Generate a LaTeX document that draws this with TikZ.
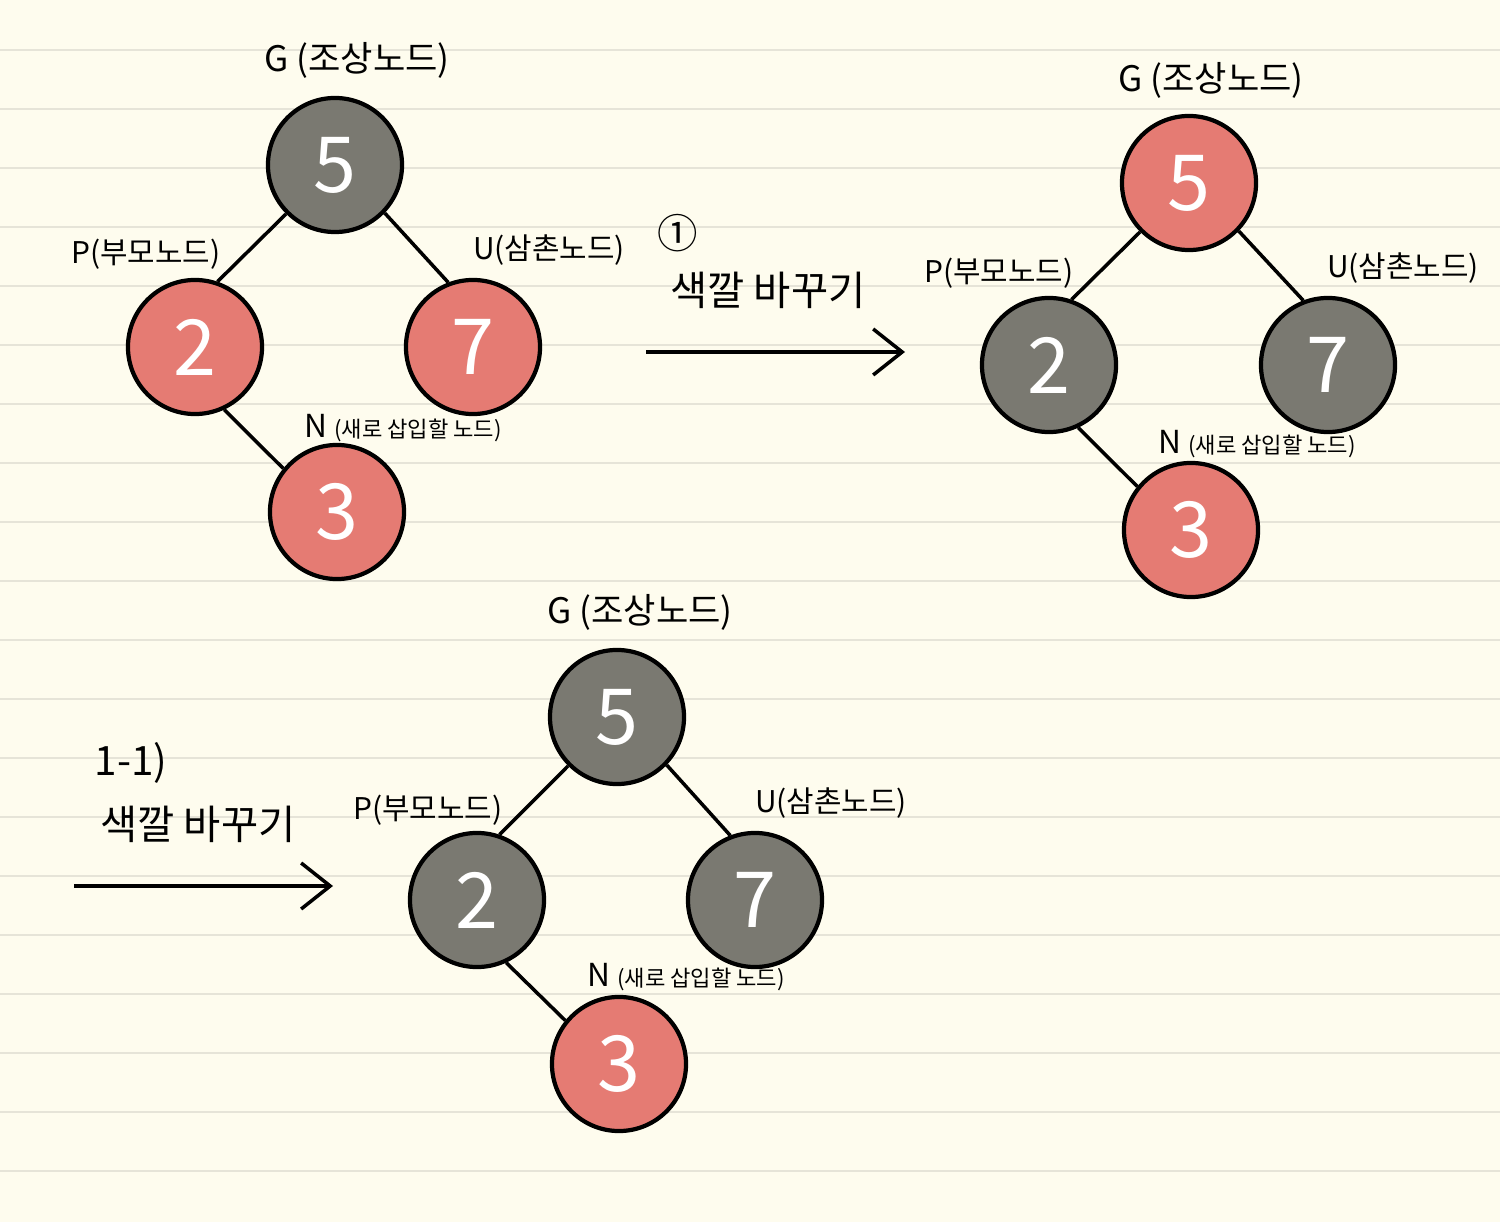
\documentclass[tikz,border=0pt]{standalone}
\usepackage{fontspec}
\setmainfont{Noto Sans CJK KR}
\usetikzlibrary{arrows.meta,%
                positioning}
\definecolor{paper}{HTML}{FEFCEE}
\definecolor{ruleline}{HTML}{E6E4D8}
\definecolor{rednode}{HTML}{E57B73}
\definecolor{graynode}{HTML}{7A7971}
\tikzset{
  rnode/.style={circle,draw=black,line width=1.2pt,fill=rednode,minimum size=1.34cm,
                inner sep=0pt,text=white,font=\fontsize{22}{22}\selectfont},
  bnode/.style={rnode,fill=graynode},
  gtag/.style={font=\fontsize{10}{10}\selectfont},
  tag/.style={font=\fontsize{8.5}{8.5}\selectfont},
  newtag/.style={font=\fontsize{9}{9}\selectfont},
  step label/.style={font=\fontsize{11.5}{11.5}\selectfont},
  edge/.style={line width=1pt},
  arr/.style={line width=1pt,-{Straight Barb[length=2.9mm,width=4.6mm,line width=1pt]}}
}
\newcommand{\newnodetext}{N {\fontsize{6.3}{6.3}\selectfont(새로 삽입할 노드)}}
\begin{document}
\begin{tikzpicture}[x=0.01cm,y=-0.01cm]
\useasboundingbox (0,0) rectangle (1500,1222);
\fill[paper] (0,0) rectangle (1500,1222);
\foreach \k in {0,...,19}
  \draw[ruleline,line width=0.8pt] (0,50+59*\k) -- (1500,50+59*\k);

\node[bnode] (g1) at (335,165) {5};
\node[rnode] (p1) at (195,347) {2};
\node[rnode] (u1) at (473,347) {7};
\node[rnode] (n1) at (337,512) {3};
\node[gtag] (lg1) at (357,60) {G (조상노드)};
\node[tag] (lp1) at (146,254) {P(부모노드)};
\node[tag] (lu1) at (549,250) {U(삼촌노드)};
\node[newtag] (ln1) at (403,428) {\newnodetext};
\draw[edge] (g1.225) -- (p1.71);
\draw[edge] (g1.-44) -- (u1.111);
\draw[edge] (p1.-65) -- (n1.141);

\coordinate (a1s) at (646,352);
\coordinate (a1e) at (905,352);
\draw[arr] (a1s) -- (a1e);
\node[step label] (s1) at (678,233) {①};
\node[step label] (c1) at (768,290) {색깔 바꾸기};

\node[rnode] (g2) at (1189,183) {5};
\node[bnode] (p2) at (1049,365) {2};
\node[bnode] (u2) at (1328,365) {7};
\node[rnode] (n2) at (1191,530) {3};
\node[gtag] (lg2) at (1211,80) {G (조상노드)};
\node[tag] (lp2) at (999,273) {P(부모노드)};
\node[tag] (lu2) at (1403,268) {U(삼촌노드)};
\node[newtag] (ln2) at (1257,444) {\newnodetext};
\draw[edge] (g2.225) -- (p2.71);
\draw[edge] (g2.-44) -- (u2.111);
\draw[edge] (p2.-65) -- (n2.141);

\coordinate (a2s) at (74,886);
\coordinate (a2e) at (333,886);
\draw[arr] (a2s) -- (a2e);
\node[step label] (s2) at (131,763) {1-1)};
\node[step label] (c2) at (198,824) {색깔 바꾸기};

\node[bnode] (g3) at (617,717) {5};
\node[bnode] (p3) at (477,900) {2};
\node[bnode] (u3) at (755,900) {7};
\node[rnode] (n3) at (619,1064) {3};
\node[gtag] (lg3) at (640,612) {G (조상노드)};
\node[tag] (lp3) at (428,810) {P(부모노드)};
\node[tag] (lu3) at (831,803) {U(삼촌노드)};
\node[newtag] (ln3) at (686,977) {\newnodetext};
\draw[edge] (g3.225) -- (p3.71);
\draw[edge] (g3.-44) -- (u3.111);
\draw[edge] (p3.-65) -- (n3.141);
\end{tikzpicture}
\end{document}
